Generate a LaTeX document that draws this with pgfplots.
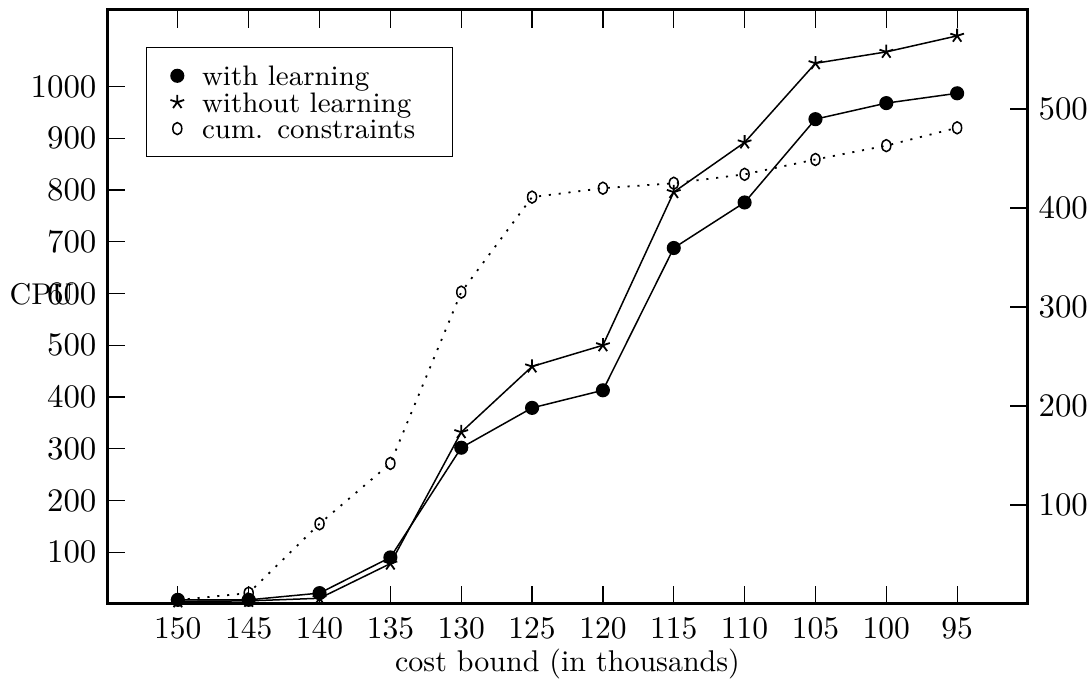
\documentclass[border=0pt]{standalone}
\usepackage{pgfplots}
\pgfplotsset{compat=1.18}
\pgfplotstableread{
idx wl wol
0 8 5
1 8 6
2 21 11
3 90 78
4 302 332
5 379 459
6 413 500
7 688 796
8 776 892
9 937 1045
10 968 1067
11 987 1098
}\cpudata
\pgfplotstableread{
idx cum
0 4
1 11
2 81
3 142
4 315
5 411
6 420
7 425
8 434
9 449
10 463
11 481
}\cumdata
\begin{document}
\begin{tikzpicture}
\useasboundingbox (-35.67pt,-26.33pt) rectangle (327pt,201.33pt);
\begin{axis}[
  at={(0,0)}, anchor=south west,
  width=307pt, height=198pt, scale only axis,
  xmin=-1, xmax=12, ymin=0, ymax=1148,
  xtick={0,...,11},
  xticklabels={150,145,140,135,130,125,120,115,110,105,100,95},
  ytick={100,200,...,1000},
  /pgf/number format/1000 sep={},
  tick label style={font=\fontsize{10.5}{12}\selectfont},
  xticklabel style={yshift=-1pt},
  xtick pos=both, ytick pos=left,
  tick align=inside,
  major tick length=6pt,
  every tick/.style={black, line width=0.4pt},
  axis line style={line width=1pt},
  xlabel={cost bound (in thousands)},
  ylabel={CPU},
  label style={font=\fontsize{10.6}{12}\selectfont},
  every axis y label/.style={at={(axis description cs:0,0.522)}, anchor=west, xshift=-36pt},
  every axis x label/.style={at={(axis description cs:0.5,0)}, anchor=center, yshift=-20pt},
  legend style={at={(0.0423,0.9377)}, anchor=north west, draw=black, line width=0.4pt,
    font=\fontsize{9.4}{10}\selectfont, inner xsep=6pt, inner ysep=5pt,
    nodes={inner sep=0.4pt, text height=7.3pt, text depth=0.7pt}, row sep=0pt,
    /tikz/every odd column/.append style={column sep=3.6pt},
    /tikz/every even column/.append style={text width=77pt}},
  legend cell align=left,
  legend image code/.code={\draw[#1] plot coordinates {(0pt,0pt)}; \path (-4pt,0pt) (4pt,0pt);},
]
\addplot[black, line width=0.5pt, mark=*, mark size=2.1pt] table[x=idx, y=wl] {\cpudata};
\addlegendentry{with learning}
\addplot[black, line width=0.5pt, mark=star, mark size=2.4pt, mark options={line width=0.6pt}] table[x=idx, y=wol] {\cpudata};
\addlegendentry{without learning}
\addlegendimage{black, line width=0.5pt, mark=o, mark size=2pt, mark options={xscale=0.75, solid}}
\addlegendentry{cum. constraints}
\end{axis}
\begin{axis}[
  at={(0,0)}, anchor=south west,
  width=307pt, height=198pt, scale only axis,
  xmin=-1, xmax=12, ymin=0, ymax=600,
  axis x line=none, axis y line*=right,
  ytick={100,200,...,500},
  tick label style={font=\fontsize{10.5}{12}\selectfont},
  tick align=inside,
  major tick length=6pt,
  every tick/.style={black, line width=0.4pt},
  axis line style={line width=1pt},
]
\addplot[black, line width=0.6pt, dash pattern=on 0.7pt off 2.6pt, mark=o, mark size=2pt, mark options={xscale=0.75, solid, line width=0.5pt}] table[x=idx, y=cum] {\cumdata};
\end{axis}
\end{tikzpicture}
\end{document}
